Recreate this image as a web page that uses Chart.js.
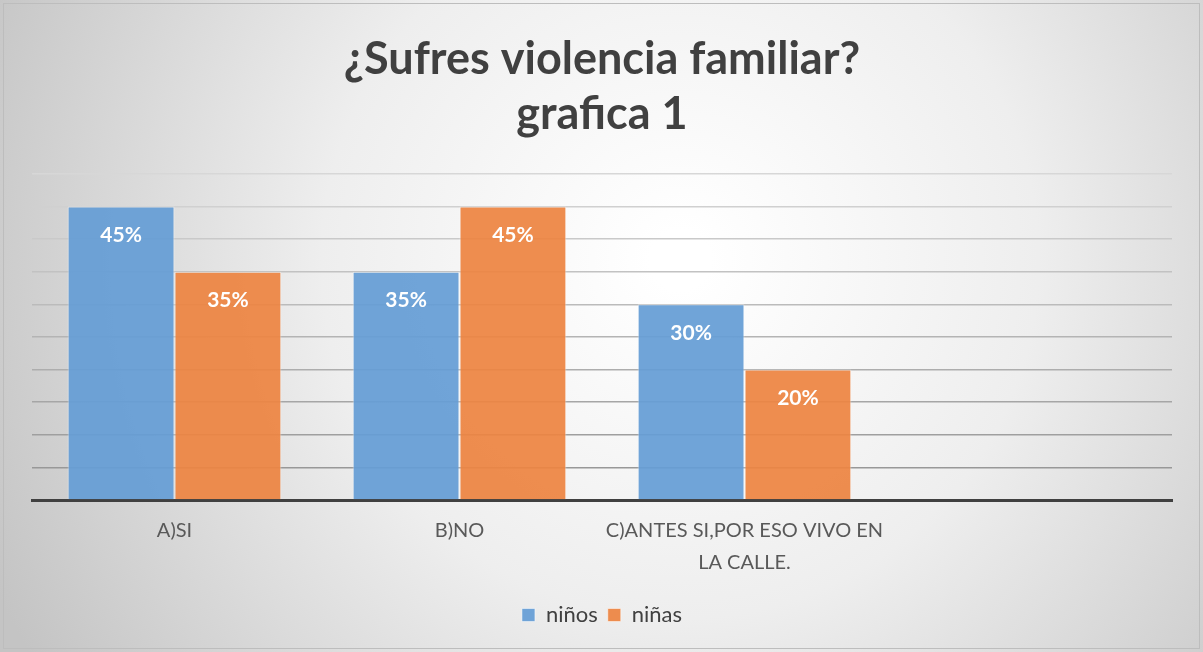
<!DOCTYPE html>
<html lang="es">
<head>
<meta charset="UTF-8">
<title>¿Sufres violencia familiar? grafica 1</title>
<script src="https://cdn.jsdelivr.net/npm/chart.js"></script>
<style>
  html, body { margin: 0; padding: 0; background: #fff; }
  #wrap { width: 1203px; height: 652px; position: relative; }
</style>
</head>
<body>
<div id="wrap"><canvas id="grafica"></canvas></div>
<script>
  // datos de la grafica
  const categorias = ['A)SI', 'B)NO', ['C)ANTES SI,POR ESO VIVO EN', 'LA CALLE.'], ''];
  const ninos = [45, 35, 30, null];
  const ninas = [35, 45, 20, null];
  const titulo = ['¿Sufres violencia familiar?', 'grafica 1'];

  const FUENTE = 'Lato, "Open Sans", sans-serif';

  // fondo degradado estilo Excel
  const fondo = {
    id: 'fondo',
    beforeDraw(chart) {
      const c = chart.ctx, w = chart.width, h = chart.height;
      const g = c.createRadialGradient(680, 260, 30, 680, 260, 760);
      g.addColorStop(0, '#ffffff');
      g.addColorStop(0.45, '#eeeeee');
      g.addColorStop(1, '#c4c4c4');
      c.save();
      c.fillStyle = g;
      c.fillRect(0, 0, w, h);
      c.strokeStyle = '#bdbdbd';
      c.lineWidth = 1;
      c.strokeRect(3.5, 3.5, w - 7, h - 7);
      c.restore();
    }
  };

  // etiquetas de valor dentro de cada barra
  const etiquetas = {
    id: 'etiquetas',
    afterDatasetsDraw(chart) {
      const c = chart.ctx;
      c.save();
      c.fillStyle = '#ffffff';
      c.font = 'bold 21px ' + FUENTE;
      c.textAlign = 'center';
      c.textBaseline = 'middle';
      chart.data.datasets.forEach((ds, i) => {
        chart.getDatasetMeta(i).data.forEach((bar, j) => {
          if (ds.data[j] == null) return;
          c.fillText(ds.data[j] + '%', bar.x, bar.y + 29);
        });
      });
      c.restore();
    }
  };

  new Chart(document.getElementById('grafica'), {
    type: 'bar',
    data: {
      labels: categorias,
      datasets: [
        { label: 'niños', data: ninos, backgroundColor: 'rgba(101,157,213,0.93)', borderColor: 'rgba(255,255,255,0.5)', borderWidth: 1 },
        { label: 'niñas', data: ninas, backgroundColor: 'rgba(237,132,66,0.93)', borderColor: 'rgba(255,255,255,0.5)', borderWidth: 1 }
      ]
    },
    options: {
      responsive: true,
      maintainAspectRatio: false,
      animation: false,
      layout: { padding: { left: 32, right: 31, top: 0, bottom: 16 } },
      datasets: { bar: { categoryPercentage: 0.75, barPercentage: 1.0 } },
      scales: {
        x: {
          grid: { display: false, drawTicks: false },
          border: { display: true, color: '#404040', width: 3 },
          ticks: { color: '#595959', font: { family: FUENTE, size: 20, lineHeight: 1.6 }, padding: 15, maxRotation: 0, autoSkip: false }
        },
        y: {
          min: 0, max: 50,
          ticks: { display: false, stepSize: 5 },
          border: { display: false },
          grid: {
            drawTicks: false,
            lineWidth: 1.5,
            color: (ctx) => {
              const v = Math.round(215 - (10 - ctx.index) * 7);
              return `rgb(${v},${v},${v})`;
            }
          }
        }
      },
      plugins: {
        title: {
          display: true,
          text: titulo,
          color: '#404040',
          font: { family: FUENTE, size: 45, weight: 'bold', lineHeight: 1.22 },
          padding: { top: 32, bottom: 32 }
        },
        legend: {
          position: 'bottom',
          labels: { color: '#404040', font: { family: FUENTE, size: 22 }, boxWidth: 13, boxHeight: 13, padding: 10 }
        },
        tooltip: { enabled: false }
      }
    },
    plugins: [fondo, etiquetas]
  });
</script>
</body>
</html>
